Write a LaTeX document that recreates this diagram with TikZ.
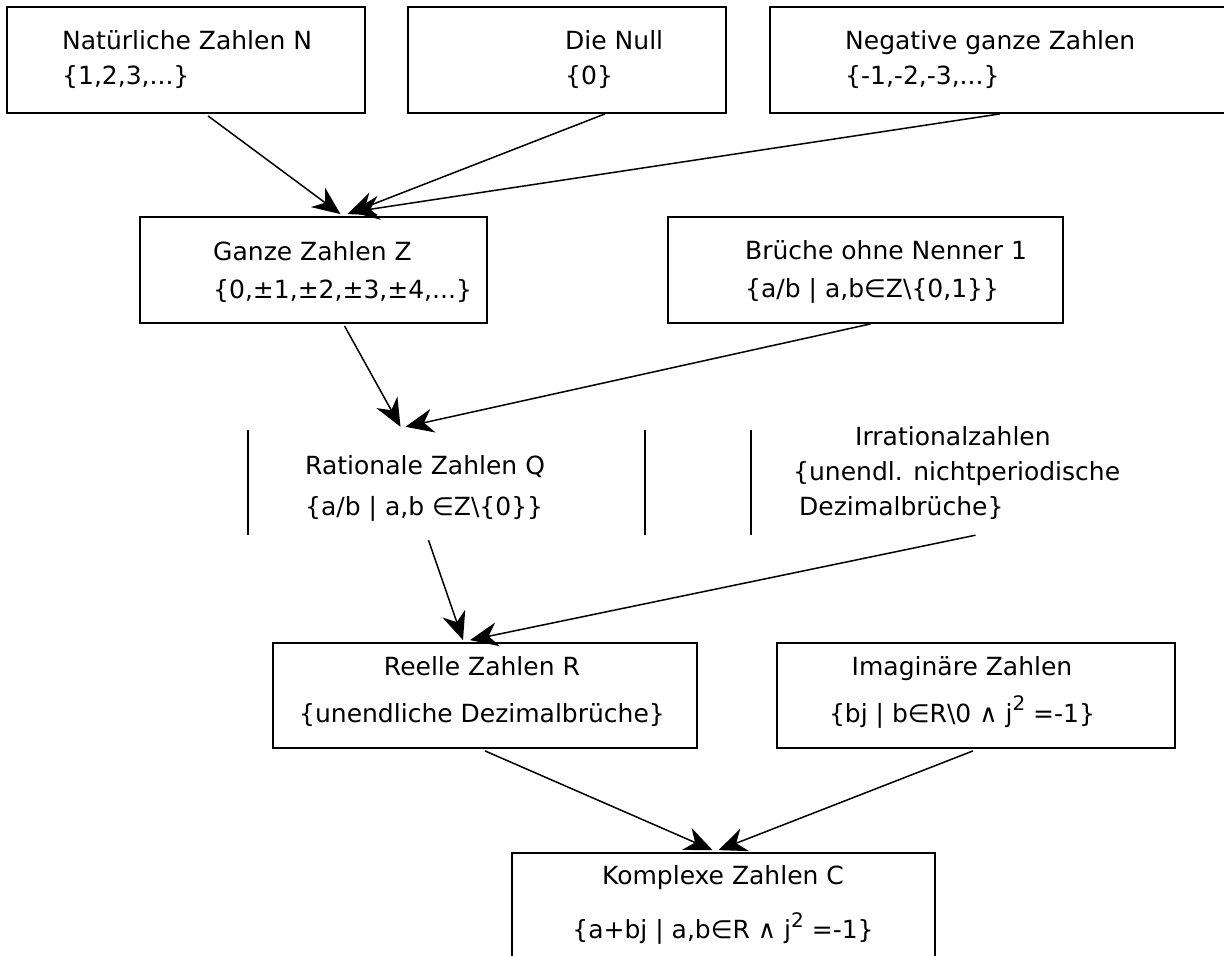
\documentclass[tikz,border=0pt]{standalone}
\usepackage{fontspec}
\setmainfont{DejaVu Sans}
\usepackage{tikz}
\usetikzlibrary{calc}
\usetikzlibrary{fit}
\usetikzlibrary{arrows.meta}
\tikzset{
	zahlbox/.style={
		draw, line width=1.8pt, inner sep=0pt
	},
	zahlfeld/.style={
		inner sep=0pt
	},
	zahltext/.style={
		font=\fontsize{25}{#1}\selectfont, inner sep=0pt, align=left, anchor=west
	},
	zahltext/.default=34,
	mitte/.style={
		align=center, anchor=center
	},
	pfeil/.style={
		-{Stealth[length=28pt, width=24pt, inset=9pt]}, line width=1.5pt
	}
}
\newcommand{\hoch}[1]{\raisebox{0.45em}{\fontsize{20}{20}\selectfont #1}}

\begin{document}
\begin{tikzpicture}[x=1pt, y=-1pt]
    \clip (0,0) rectangle (1224,956);
    \fill[white] (0,0) rectangle (1224,956);

    % obere Reihe
    \node[zahlbox, fit={(7,7) (365,113)}] (nat) {};
    \node[zahlbox, fit={(408,7) (726,113)}] (null) {};
    \node[zahlbox, fit={(770,7) (1240,113)}] (neg) {};
    \node[zahltext=35] (nat-t) at (62,60) {Natürliche Zahlen N\\\{1,2,3,...\}};
    \node[zahltext=35] (null-t) at (565,60) {Die Null\\\{0\}};
    \node[zahltext=35] (neg-t) at (845,60) {Negative ganze Zahlen\\\{-1,-2,-3,...\}};

    % Z und Brueche
    \node[zahlbox, fit={(140,217) (487,323)}] (ganz) {};
    \node[zahlbox, fit={(668,217) (1063,323)}] (bruch) {};
    \node[zahltext=38] (ganz-t) at (213,272) {Ganze Zahlen Z\\\{0,±1,±2,±3,±4,...\}};
    \node[zahltext=38] (bruch-t) at (745,272) {Brüche ohne Nenner 1\\\{a/b \textbar{} a,b∈Z\textbackslash\{0,1\}\}};

    % Q und irrationale Zahlen
    \node[zahlfeld, fit={(248,430) (645,535)}] (rat) {};
    \node[zahlfeld, fit={(751,430) (1150,535)}] (irr) {};
    \draw[line width=1.8pt] (rat.north west) -- (rat.south west);
    \draw[line width=1.8pt] (rat.north east) -- (rat.south east);
    \draw[line width=1.8pt] (irr.north west) -- (irr.south west);
    \node[zahltext=41] (rat-t) at (305,488) {Rationale Zahlen Q\\\{a/b \textbar{} a,b ∈Z\textbackslash\{0\}\}};
    \node[zahltext=35] (irr-t) at (793,473) {\hspace{62pt}Irrationalzahlen\\\{unendl. nichtperiodische\\\hspace{6pt}Dezimalbrüche\}};

    % R und imaginaere Zahlen
    \node[zahlbox, fit={(273,643) (697,748)}] (reell) {};
    \node[zahlbox, fit={(777,643) (1175,748)}] (imag) {};
    \node[zahltext=47, mitte] (reell-t) at (482,692) {Reelle Zahlen R\\\{unendliche Dezimalbrüche\}};
    \node[zahltext=47, mitte] (imag-t) at (962,692) {Imaginäre Zahlen\\\{bj \textbar{} b∈R\textbackslash 0 ∧ j\hoch{2} =-1\}};

    % C
    \node[zahlbox, fit={(512,853) (935,1000)}] (kompl) {};
    \node[zahltext=54, mitte] (kompl-t) at (723,905) {Komplexe Zahlen C\\\{a+bj \textbar{} a,b∈R ∧ j\hoch{2} =-1\}};

    \draw[pfeil] ($(nat.south)+(22,2)$) -- ($(ganz.north)+(27,-2)$);
    \draw[pfeil] ($(null.south)+(38,0)$) -- ($(ganz.north)+(34,-2)$);
    \draw[pfeil] ($(neg.south)+(-5,0)$) -- ($(ganz.north)+(38,-4)$);
    \draw[pfeil] ($(ganz.south)+(31,2)$) -- ($(rat.north)+(-46,-3)$);
    \draw[pfeil] ($(bruch.south)+(5,0)$) -- ($(rat.north)+(-41,-3)$);
    \draw[pfeil] ($(rat.south)+(-18,5)$) -- ($(reell.north)+(-22,-2)$);
    \draw[pfeil] ($(irr.south)+(25,0)$) -- ($(reell.north)+(-15,-2)$);
    \draw[pfeil] ($(reell.south)+(0,2)$) -- ($(kompl.north)+(-11,-2)$);
    \draw[pfeil] ($(imag.south)+(-3,2)$) -- ($(kompl.north)+(-5,-2)$);
\end{tikzpicture}
\end{document}
